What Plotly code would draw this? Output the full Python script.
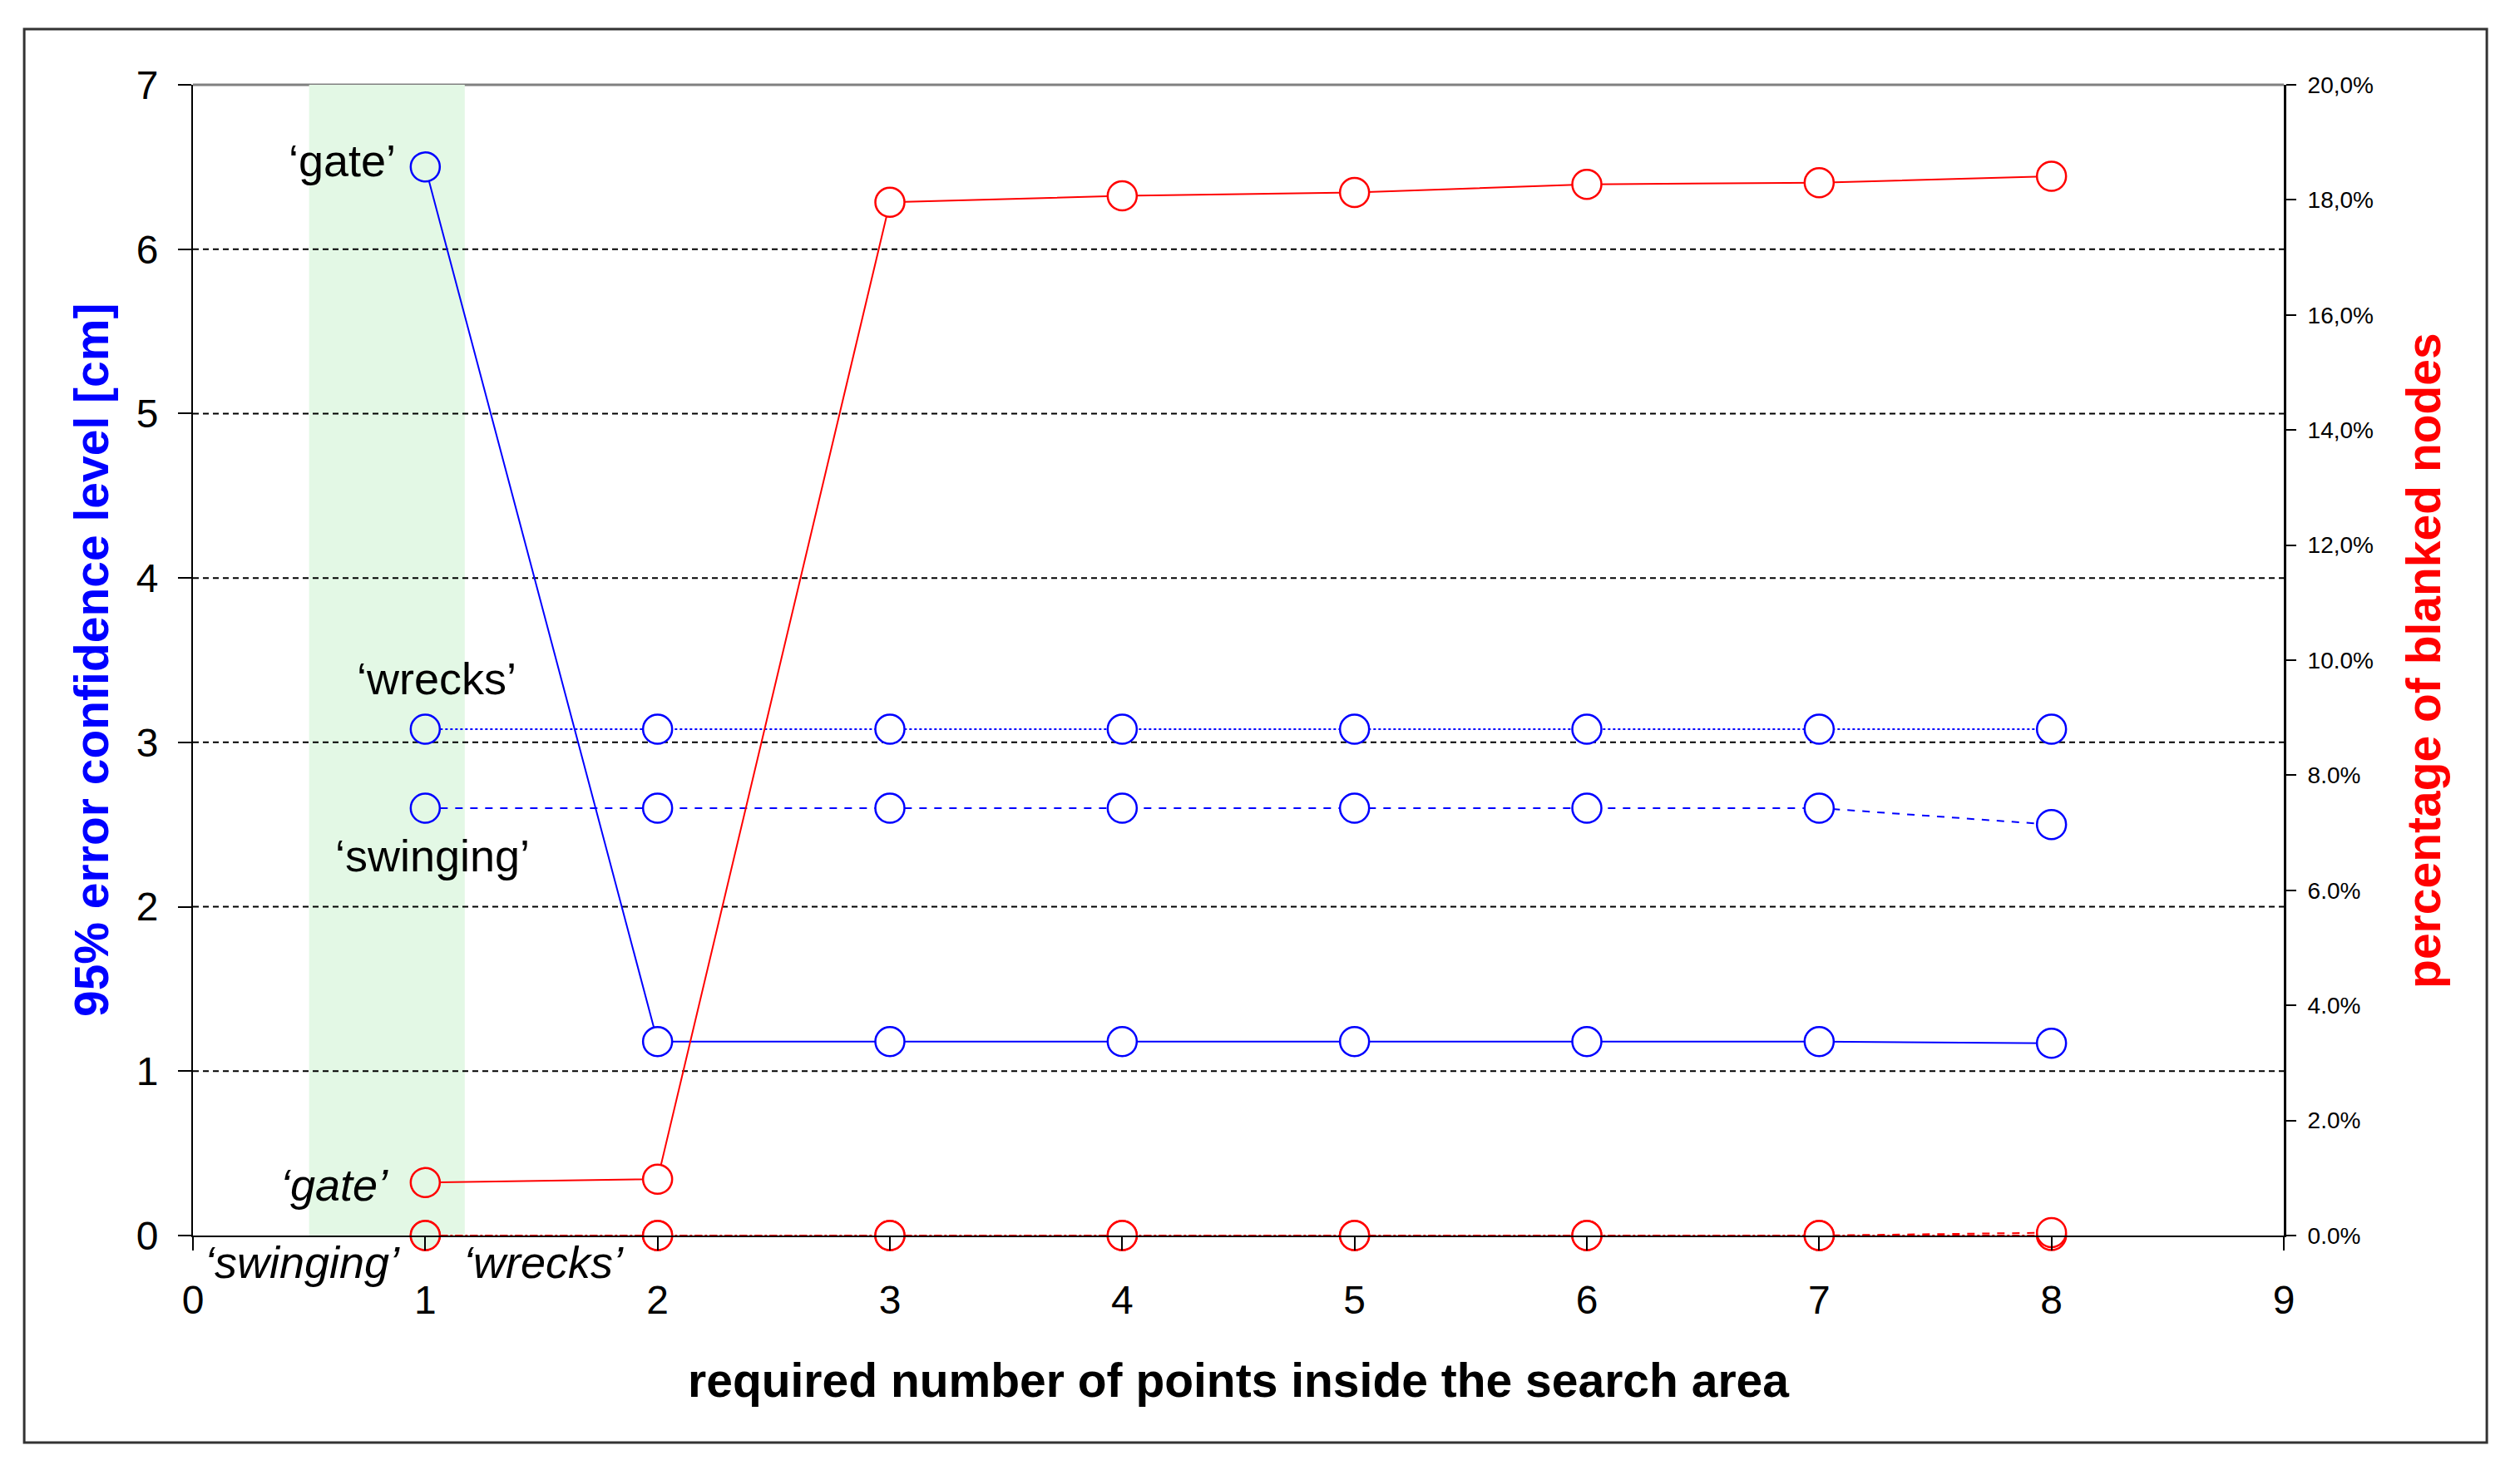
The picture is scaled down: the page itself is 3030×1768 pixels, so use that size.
import plotly.graph_objects as go

# x axis: required number of points
points = [1, 2, 3, 4, 5, 6, 7, 8]

# left axis, 95% error confidence level [cm] (blue)
err_gate = [6.50, 1.18, 1.18, 1.18, 1.18, 1.18, 1.18, 1.17]
err_wrecks = [3.08, 3.08, 3.08, 3.08, 3.08, 3.08, 3.08, 3.08]
err_swinging = [2.60, 2.60, 2.60, 2.60, 2.60, 2.60, 2.60, 2.50]

# right axis, percentage of blanked nodes (red)
blank_gate = [0.92, 0.98, 17.96, 18.07, 18.13, 18.27, 18.30, 18.41]
blank_wrecks = [0, 0, 0, 0, 0, 0, 0, 0.05]
blank_swinging = [0, 0, 0, 0, 0, 0, 0, 0]

right_ticks = [0, 2, 4, 6, 8, 10, 12, 14, 16, 18, 20]
right_labels = ['0.0%', '2.0%', '4.0%', '6.0%', '8.0%', '10.0%',
                '12,0%', '14,0%', '16,0%', '18,0%', '20,0%']
grid_vals = [1, 2, 3, 4, 5, 6]
band = (0.5, 1.17)

FONT = 'Liberation Sans, Arial, sans-serif'
BAND_COLOR = '#E3F8E5'


def fills(xs):
    # markers take the colour of what's behind them
    return [BAND_COLOR if band[0] <= x <= band[1] else 'white' for x in xs]


fig = go.Figure()

def add_line(y, color, dash, axis):
    fig.add_trace(go.Scatter(
        x=points, y=y, mode='lines+markers', yaxis=axis, cliponaxis=False,
        line=dict(color=color, width=2, dash=dash),
        marker=dict(symbol='circle', size=35, color=fills(points),
                    line=dict(color=color, width=2.5)),
        hoverinfo='x+y'))

add_line(blank_swinging, '#FF0000', 'dashdot', 'y2')
add_line(blank_wrecks, '#FF0000', 'dash', 'y2')
add_line(blank_gate, '#FF0000', 'solid', 'y2')
add_line(err_wrecks, '#0000FF', 'dot', 'y')
add_line(err_swinging, '#0000FF', 'dash', 'y')
add_line(err_gate, '#0000FF', 'solid', 'y')

# green band for n = 1
fig.add_shape(type='rect', xref='x', yref='y', x0=band[0], x1=band[1],
              y0=0, y1=7, fillcolor=BAND_COLOR, line_width=0, layer='below')
# dashed grid lines
for g in grid_vals:
    fig.add_shape(type='line', xref='x', yref='y', x0=0, x1=9, y0=g, y1=g,
                  line=dict(color='black', width=2, dash='7px,5px'), layer='below')
# grey top edge of the plot area
fig.add_shape(type='line', xref='paper', yref='paper', x0=0, x1=1, y0=1, y1=1,
              line=dict(color='#808080', width=3), layer='below')
# outer frame
fig.add_shape(type='rect', xref='paper', yref='paper', x0=-0.0807, x1=1.0971,
              y0=-0.1799, y1=1.0484, line=dict(color='#333333', width=3))

# series labels (the italic ones sit below the x axis, so in paper units)
notes = [
    ("‘gate’", 0.88, 6.54 / 7, 'right'),
    ("‘wrecks’", 1.05, 3.39 / 7, 'center'),
    ("‘swinging’", 1.03, 2.31 / 7, 'center'),
    ("<i>‘gate’</i>", 0.85, 0.31 / 7, 'right'),
    ("<i>‘swinging’</i>", 0.47, -0.16 / 7, 'center'),
    ("<i>‘wrecks’</i>", 1.51, -0.16 / 7, 'center'),
]
for text, x, y, anchor in notes:
    fig.add_annotation(text=text, x=x, y=y, xref='x', yref='paper', xanchor=anchor,
                       yanchor='middle', showarrow=False,
                       font=dict(family=FONT, size=54, color='black'))

fig.add_annotation(text='<b>95% error confidence level [cm]</b>', xref='paper', yref='paper',
                   x=-0.0485, y=0.5, xanchor='center', yanchor='middle',
                   textangle=-90, showarrow=False,
                   font=dict(family=FONT, size=57, color='#0000FF'))
fig.add_annotation(text='<b>percentage of blanked nodes</b>', xref='paper', yref='paper',
                   x=1.0668, y=0.5, xanchor='center', yanchor='middle',
                   textangle=-90, showarrow=False,
                   font=dict(family=FONT, size=57, color='#FF0000'))
fig.add_annotation(text='<b>required number of points inside the search area</b>',
                   xref='paper', yref='paper', x=0.5, y=-0.1257,
                   xanchor='center', yanchor='middle', showarrow=False,
                   font=dict(family=FONT, size=57, color='black'))

# page body has an 8px margin, so the figure is 16px smaller than the window
fig.update_layout(
    width=3014, height=1752,
    margin=dict(l=224, r=276, t=94, b=274),
    plot_bgcolor='white', paper_bgcolor='white',
    showlegend=False,
    font=dict(family=FONT, color='black'),
    xaxis=dict(range=[0, 9], tickvals=list(range(10)), showgrid=False, zeroline=False,
               showline=True, linecolor='black', linewidth=2,
               ticks='outside', ticklen=16, tickwidth=2, tickcolor='black',
               ticklabelstandoff=18, tickfont=dict(size=48)),
    yaxis=dict(range=[0, 7], tickvals=list(range(8)), showgrid=False, zeroline=False,
               showline=True, linecolor='black', linewidth=2,
               ticks='outside', ticklen=16, tickwidth=2, tickcolor='black',
               ticklabelstandoff=14, tickfont=dict(size=48)),
    yaxis2=dict(range=[0, 20], overlaying='y', side='right', anchor='x',
                tickvals=right_ticks, ticktext=right_labels, showgrid=False,
                zeroline=False, showline=True, linecolor='black', linewidth=3,
                ticks='outside', ticklen=12, tickwidth=2, tickcolor='black',
                ticklabelstandoff=8, tickfont=dict(size=28)),
    # inner half of the crossing ticks on the right axis
    yaxis3=dict(range=[0, 20], overlaying='y', side='right', anchor='x',
                tickvals=right_ticks, showticklabels=False, showgrid=False,
                zeroline=False, showline=False, ticks='inside', ticklen=12,
                tickwidth=2, tickcolor='black'),
)

fig.write_html("out.html")
